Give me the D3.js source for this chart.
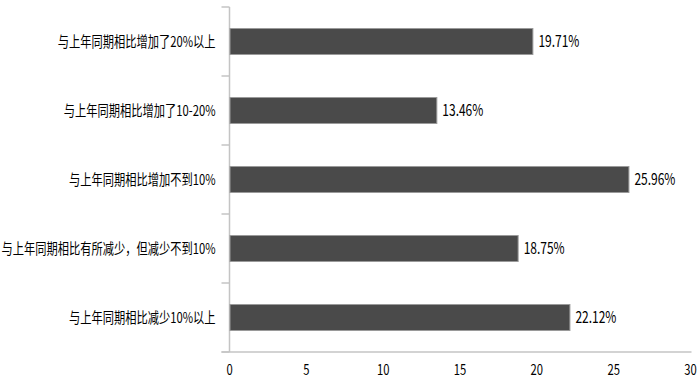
<!DOCTYPE html>
<html>
<head>
<meta charset="utf-8">
<script src="https://cdn.jsdelivr.net/npm/d3@7"></script>
<style>
  body { margin: 0; background: #fff; }
  svg { display: block; }
  text { font-family: "Noto Sans CJK SC", "Liberation Sans", sans-serif; fill: #000; }
</style>
</head>
<body>
<div id="chart"></div>
<script>
// data
var categories = [
  '与上年同期相比增加了20%以上',
  '与上年同期相比增加了10-20%',
  '与上年同期相比增加不到10%',
  '与上年同期相比有所减少，但减少不到10%',
  '与上年同期相比减少10%以上'
];
var values = [19.71, 13.46, 25.96, 18.75, 22.12];
var xTicks = [0, 5, 10, 15, 20, 25, 30];

var w = 700, h = 381;
var margin = { top: 7, right: 10, bottom: 29, left: 229.5 };
var squeeze = 0.75; // the source text is horizontally narrow

var svg = d3.select('#chart').append('svg')
    .attr('width', w)
    .attr('height', h);

var xScale = d3.scaleLinear()
    .domain([0, 30])
    .range([margin.left, 690.5]);

var yScale = d3.scaleBand()
    .domain(categories)
    .range([margin.top, h - margin.bottom]);

var axisColor = '#c4c4c4';
var x0 = xScale(0), yBottom = h - margin.bottom;

// y axis line + ticks at band edges
svg.append('line')
    .attr('x1', x0).attr('x2', x0)
    .attr('y1', margin.top).attr('y2', yBottom)
    .attr('stroke', axisColor).attr('stroke-width', 1.5);

var edges = categories.map(function(c) { return yScale(c); }).concat([yBottom]);
svg.selectAll('.ytick')
    .data(edges)
    .enter().append('line')
    .attr('class', 'ytick')
    .attr('x1', x0 - 8).attr('x2', x0)
    .attr('y1', function(d) { return d; })
    .attr('y2', function(d) { return d; })
    .attr('stroke', axisColor).attr('stroke-width', 1.5);

// x axis line
svg.append('line')
    .attr('x1', x0 - 8).attr('x2', xScale(30) + 1)
    .attr('y1', yBottom).attr('y2', yBottom)
    .attr('stroke', axisColor).attr('stroke-width', 1.5);

// x tick labels
svg.selectAll('.xlabel')
    .data(xTicks)
    .enter().append('text')
    .attr('class', 'xlabel')
    .attr('transform', function(d) {
        return 'translate(' + xScale(d) + ',' + (yBottom + 18) + ') scale(' + squeeze + ',1)';
    })
    .attr('dy', '0.35em')
    .attr('text-anchor', 'middle')
    .style('font-size', '15px')
    .text(function(d) { return d; });

// bars
var barH = 26;
svg.selectAll('.bar')
    .data(values)
    .enter().append('rect')
    .attr('class', 'bar')
    .attr('x', x0 + 0.5)
    .attr('y', function(d, i) { return yScale(categories[i]) + (yScale.bandwidth() - barH) / 2; })
    .attr('width', function(d) { return xScale(d) - x0; })
    .attr('height', barH)
    .attr('fill', '#4a4a4a')
    .attr('stroke', '#9a9a9a')
    .attr('stroke-width', 1);

// category labels
svg.selectAll('.ylabel')
    .data(categories)
    .enter().append('text')
    .attr('class', 'ylabel')
    .attr('transform', function(d) {
        return 'translate(' + (x0 - 14) + ',' + (yScale(d) + yScale.bandwidth() / 2) + ') scale(' + squeeze + ',1)';
    })
    .attr('dy', '0.35em')
    .attr('text-anchor', 'end')
    .style('font-size', '15px')
    .text(function(d) { return d; });

// value labels
svg.selectAll('.vlabel')
    .data(values)
    .enter().append('text')
    .attr('class', 'vlabel')
    .attr('transform', function(d, i) {
        return 'translate(' + (xScale(d) + 6) + ',' + (yScale(categories[i]) + yScale.bandwidth() / 2) + ') scale(' + squeeze + ',1)';
    })
    .attr('dy', '0.35em')
    .style('font-size', '16px')
    .text(function(d) { return d.toFixed(2) + '%'; });
</script>
</body>
</html>
